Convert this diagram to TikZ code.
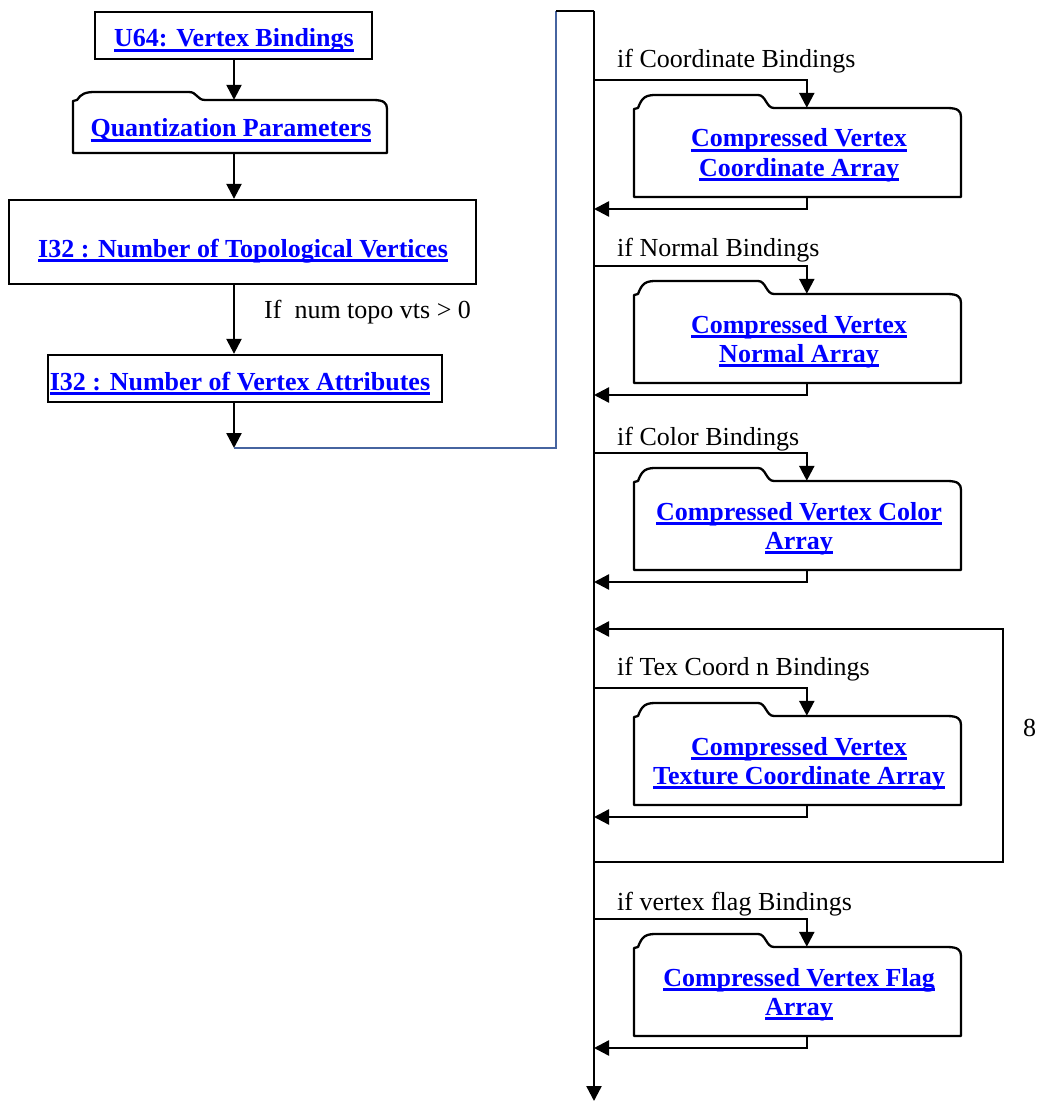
\documentclass[tikz,border=0pt]{standalone}
\usepackage{fontspec}
\setmainfont{Liberation Serif}
\usetikzlibrary{arrows.meta,calc}
\definecolor{linkblue}{RGB}{0,0,255}
\definecolor{wireblue}{RGB}{70,100,160}
% bold blue underlined link text
\newcommand\lnk[1]{{\color{linkblue}\bfseries\setbox0=\hbox{#1}%
  \rlap{\vrule height -2.4pt depth 5.2pt width \wd0}\box0}}
% folder outline: left, right, tab top, body top, bottom, tab width
\newcommand\folder[6]{%
  \draw[outline] (#1,#5) -- (#1,#4+1) -- (#1+4,#4)
    .. controls (#1+8,#3+2) and (#1+12,#3) .. (#1+22,#3)
    -- (#1+#6-16,#3)
    .. controls (#1+#6-8,#3) and (#1+#6-8,#4) .. (#1+#6,#4)
    -- (#2-14,#4)
    .. controls (#2-3,#4) and (#2,#4+3) .. (#2,#4+9)
    -- (#2,#5) -- cycle;}
\begin{document}
\begin{tikzpicture}[x=1pt,y=-1pt,
  font=\fontsize{26pt}{29pt}\selectfont,
  outline/.style={line width=2.3pt,line join=round},
  box/.style={draw,line width=2.3pt,rectangle,inner sep=0pt},
  body/.style={rectangle,inner sep=0pt},
  txt/.style={inner sep=0pt},
  arr/.style={line width=2.4pt,-{Triangle[width=15pt,length=15pt]}},
  wire/.style={line width=2.4pt},
  thinwire/.style={line width=1.2pt,draw=wireblue}]
\useasboundingbox (0,0) rectangle (1036,1102);

% left column
\node[box,minimum width=277pt,minimum height=47pt] (u64) at (233.5,35.5) {};
\node[txt,anchor=base] (u64t) at (234,47) {\lnk{U64: Vertex Bindings}};

\node[body,minimum width=314pt,minimum height=53pt] (qp) at (230,126.5) {};
\folder{73}{387}{92}{100}{153}{132}
\node[txt,anchor=base] (qpt) at (231,137) {\lnk{Quantization Parameters}};

\node[box,minimum width=467pt,minimum height=84pt] (topo) at (242.5,242) {};
\node[txt,anchor=base] (topot) at (243,257) {\lnk{I32 : Number of Topological Vertices}};

\node[box,minimum width=394pt,minimum height=47pt] (attr) at (245,378.5) {};
\node[txt,anchor=base] (attrt) at (240,390) {\lnk{I32 : Number of Vertex Attributes}};

\node[txt,anchor=base west] (cond) at (264,318) {If~ num topo vts > 0};

\coordinate (j0) at (234,448);
\coordinate (jr) at (556,448);
\coordinate (jt) at (556,11);
\coordinate (sp0) at (594,11);
\coordinate (spend) at (594,1101);

\draw[arr] (u64.south -| j0) -- (qp.north -| j0);
\draw[arr] (qp.south -| j0) -- (topo.north -| j0);
\draw[arr] (topo.south -| j0) -- (attr.north -| j0);
\draw[arr] (attr.south -| j0) -- (j0);
\draw[thinwire] (j0) -- (jr) -- (jt);
\draw[wire,line join=miter] (jt) -- (sp0);
\draw[arr] (sp0) -- (spend);

% attribute arrays on the right
\foreach \i/\yb/\yl/\txt/\one/\two in {
  1/80/68/{if Coordinate Bindings}/{Compressed Vertex}/{Coordinate Array},
  2/266/256/{if Normal Bindings}/{Compressed Vertex}/{Normal Array},
  3/453/445/{if Color Bindings}/{Compressed Vertex Color}/{Array},
  4/688/675/{if Tex Coord n Bindings}/{Compressed Vertex}/{Texture Coordinate Array},
  5/919/910/{if vertex flag Bindings}/{Compressed Vertex Flag}/{Array}}{
  \node[txt,anchor=base west] (lab\i) at (617,\yl) {\txt};
  \node[body,minimum width=327pt,minimum height=89pt] (f\i) at (797.5,\yb+72.5) {};
  \folder{634}{961}{\yb+15}{\yb+28}{\yb+117}{140}
  \node[txt,anchor=base] (f\i a) at (799,\yb+67) {\lnk{\one}};
  \node[txt,anchor=base] (f\i b) at (799,\yb+96) {\lnk{\two}};
  \coordinate (br\i) at (594,\yb);
  \coordinate (rt\i) at (594,\yb+129);
  \draw[arr] (br\i) -| ($(f\i.north west)+(173,0)$);
  \draw[arr] ($(f\i.south west)+(173,0)$) |- (rt\i);
}

% repeat loop over the texture coordinate sets
\coordinate (lpin) at (594,862);
\coordinate (lpa) at (1003,862);
\coordinate (lpb) at (1003,629);
\coordinate (lpout) at (594,629);
\draw[arr,line join=miter] (lpin) -- (lpa) -- (lpb) -- (lpout);
\node[txt,anchor=base west] (n8) at (1023,736) {8};
\end{tikzpicture}
\end{document}
